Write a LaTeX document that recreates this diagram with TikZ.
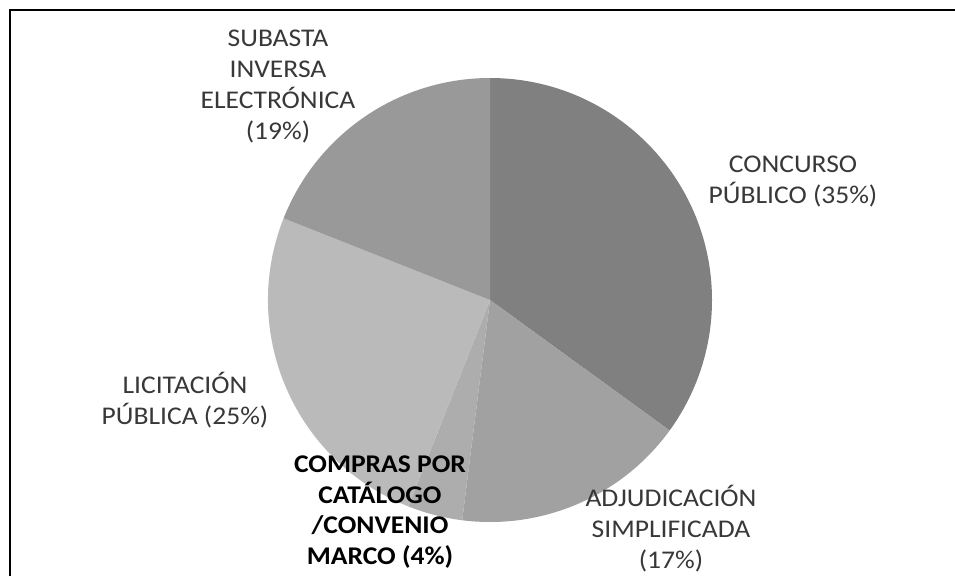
\documentclass[tikz,border=0pt]{standalone}
\usepackage{fontspec}
\setmainfont{Carlito}[FakeStretch=1.08]
\definecolor{cconc}{gray}{0.50}
\definecolor{csub}{gray}{0.60}
\definecolor{clic}{gray}{0.73}
\definecolor{ccomp}{gray}{0.68}
\definecolor{cadj}{gray}{0.63}
\definecolor{ctext}{gray}{0.22}
\tikzset{
  lbl/.style={align=center, text=ctext, inner sep=0pt, font=\fontsize{25.5}{31}\selectfont},
  lblbold/.style={align=center, text=black, inner sep=0pt, font=\fontsize{25.5}{30.5}\selectfont\bfseries},
  frame/.style={draw=black, line width=1.6pt}
}
\begin{document}
\begin{tikzpicture}[x=1pt,y=-1pt]
\useasboundingbox (0,0) rectangle (955,576);
\fill[white] (0,0) rectangle (955,576);
% frame
\coordinate (fbl) at (10,576);
\coordinate (ftl) at (10,10);
\coordinate (ftr) at (955,10);
\draw[frame] (fbl) -- (ftl) -- (ftr);
% pie
\begin{scope}[shift={(490,300)}, y=1pt]
  \coordinate (pc) at (0,0);
  \fill[cconc] (pc) -- (90:222pt) arc[start angle=90, end angle=-36, radius=222pt] -- cycle;
  \fill[cadj]  (pc) -- (-36:222pt) arc[start angle=-36, end angle=-97.2, radius=222pt] -- cycle;
  \fill[ccomp] (pc) -- (-97.2:222pt) arc[start angle=-97.2, end angle=-111.6, radius=222pt] -- cycle;
  \fill[clic]  (pc) -- (-111.6:222pt) arc[start angle=-111.6, end angle=-201.6, radius=222pt] -- cycle;
  \fill[csub]  (pc) -- (-201.6:222pt) arc[start angle=-201.6, end angle=-270, radius=222pt] -- cycle;
\end{scope}
% labels
\node[lbl] (subasta) at (278,86) {SUBASTA\\INVERSA\\ELECTRÓNICA\\(19\%)};
\node[lbl] (concurso) at (793,181) {CONCURSO\\PÚBLICO (35\%)};
\node[lbl] (licitacion) at (185,400) {LICITACIÓN\\PÚBLICA (25\%)};
\node[lblbold] (compras) at (380,512) {COMPRAS POR\\CATÁLOGO\\/CONVENIO\\MARCO (4\%)};
\node[lbl] (adjudicacion) at (671,529) {ADJUDICACIÓN\\SIMPLIFICADA\\(17\%)};
\end{tikzpicture}
\end{document}
